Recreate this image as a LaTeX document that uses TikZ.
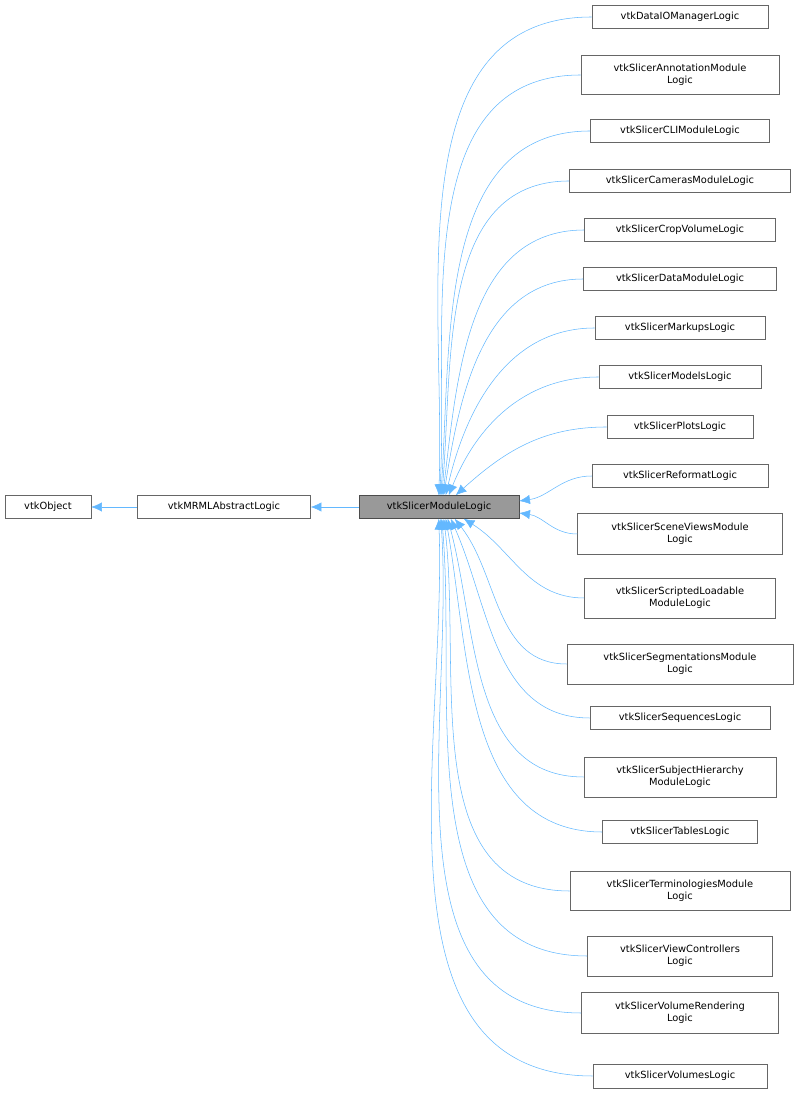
\documentclass[tikz,border=0pt]{standalone}
\usepackage{fontspec}
\setmainfont{DejaVu Sans}
\usetikzlibrary{calc}
\usetikzlibrary{arrows.meta}
\definecolor{edgeblue}{HTML}{63B8FF}
\definecolor{boxgray}{HTML}{666666}
\definecolor{curfill}{HTML}{999999}
\begin{document}
\begin{tikzpicture}
[
	x = 0.75pt, y = 0.75pt,
	cls/.style = {draw = boxgray, fill = white, inner sep = 0pt, minimum height = 17.25pt, align = center, font = \fontsize{7.4}{8.8}\selectfont},
	cur/.style = {cls, fill = curfill, draw = black!70},
	edge/.style = {draw = edgeblue, {Latex[length=8pt,width=7pt,fill=edgeblue]}-, thin},
]
	\useasboundingbox (0,0) rectangle (799,1096);

	% bases
	\node (obj) [cls, minimum width = 64.5pt] at (48,{1096-507}) {vtkObject};
	\node (mrml) [cls, minimum width = 129.75pt] at (224,{1096-507}) {vtkMRMLAbstractLogic};
	\node (ml) [cur, minimum width = 120pt] at (439,{1096-507}) {vtkSlicerModuleLogic};

	% derived classes
	\foreach \n/\yy/\w/\hh/\txt in {
		c1/17/176/23/vtkDataIOManagerLogic,
		c2/75/198/39/{vtkSlicerAnnotationModule\\Logic},
		c3/131/179/23/vtkSlicerCLIModuleLogic,
		c4/181/221/23/vtkSlicerCamerasModuleLogic,
		c5/230/191/23/vtkSlicerCropVolumeLogic,
		c6/279/193/23/vtkSlicerDataModuleLogic,
		c7/328/170/23/vtkSlicerMarkupsLogic,
		c8/377/162/23/vtkSlicerModelsLogic,
		c9/427/146/23/vtkSlicerPlotsLogic,
		c10/476/176/23/vtkSlicerReformatLogic,
		c11/534/205/41/{vtkSlicerSceneViewsModule\\Logic},
		c12/598/191/40/{vtkSlicerScriptedLoadable\\ModuleLogic},
		c13/664/226/40/{vtkSlicerSegmentationsModule\\Logic},
		c14/718/180/23/vtkSlicerSequencesLogic,
		c15/777/192/40/{vtkSlicerSubjectHierarchy\\ModuleLogic},
		c16/832/155/23/vtkSlicerTablesLogic,
		c17/891/220/39/{vtkSlicerTerminologiesModule\\Logic},
		c18/956/185/40/{vtkSlicerViewControllers\\Logic},
		c19/1013/197/41/{vtkSlicerVolumeRendering\\Logic},
		c20/1076/174/24/vtkSlicerVolumesLogic}
		\node (\n) [cls, minimum width = \w*0.75pt, minimum height = \hh*0.75pt] at (680,{1096-\yy}) {\txt};

	% inheritance
	\draw [edge] (obj) -- (mrml);
	\draw [edge] (mrml) -- (ml);

	\foreach \n/\dx/\ang in {c1/80/88, c2/81/87, c3/82/86, c4/83/85, c5/84/83, c6/85/81, c7/87/77, c8/90/68, c9/97/42}
		\draw [edge] ($(ml.north west)+(\dx,0)$) to [in = 180, out = \ang] (\n.west);
	\draw [edge] ($(ml.east)+(0,6)$) to [in = 180, out = 8] (c10.west);
	\draw [edge] ($(ml.east)+(0,-6)$) to [in = 180, out = -8] (c11.west);
	\foreach \n/\dx/\ang in {c12/105/-32, c13/96/-52, c14/92/-66, c15/89/-75, c16/87/-80, c17/85/-83, c18/83/-85, c19/82/-86, c20/80/-88}
		\draw [edge] ($(ml.south west)+(\dx,0)$) to [in = 180, out = \ang] (\n.west);

\end{tikzpicture}
\end{document}
